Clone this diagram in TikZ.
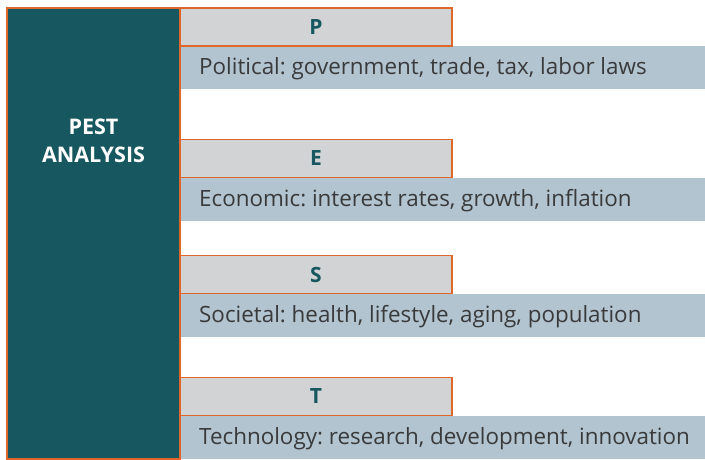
\documentclass[tikz,border=0pt]{standalone}
\usepackage{fontspec}
\setmainfont{Open Sans}
\frenchspacing
\definecolor{teal}{HTML}{17575F}
\definecolor{hdrgray}{HTML}{D1D3D4}
\definecolor{band}{HTML}{B1C4D0}
\definecolor{edge}{HTML}{E0672A}
\definecolor{txt}{HTML}{3A3A3A}
\begin{document}
\begin{tikzpicture}[x=1pt,y=-1pt,
  hdr/.style={draw=edge,line width=1.6pt,fill=hdrgray},
  bandbox/.style={fill=band},
  letter/.style={font=\fontsize{21}{24}\selectfont\bfseries,text=teal},
  desc/.style={font=\fontsize{22.4}{26}\selectfont,text=txt,anchor=west,inner sep=0pt}]
\useasboundingbox (0,0) rectangle (705,460);
\fill[white] (0,0) rectangle (705,460);
% bands
\foreach \n/\t in {p/46,e/178,s/294,t/416}{
  \fill[band] (180,\t) rectangle (705,\t+43);
}
% header boxes
\foreach \n/\t in {p/8,e/139.5,s/255.5,t/377.5}{
  \draw[hdr] (180,\t) rectangle (452,\t+38);
}
\draw[draw=edge,line width=1.6pt,fill=teal] (7,8) rectangle (180,459);
\node[font=\fontsize{21.5}{28}\selectfont\bfseries,text=white,align=center] (title) at (93.5,141) {PEST\\ANALYSIS};
\node[letter] (lp) at (316,27) {P};
\node[letter] (le) at (316,158.5) {E};
\node[letter] (ls) at (316,274.5) {S};
\node[letter] (lt) at (316,396.5) {T};
\node[desc] (dp) at (199,68.5) {Political: government, trade, tax, labor laws};
\node[desc] (de) at (199,200.5) {Economic: interest rates, growth, inflation};
\node[desc] (ds) at (199,316.5) {Societal: health, lifestyle, aging, population};
\node[desc] (dt) at (199,438.5) {Technology: research, development, innovation};
\end{tikzpicture}
\end{document}
